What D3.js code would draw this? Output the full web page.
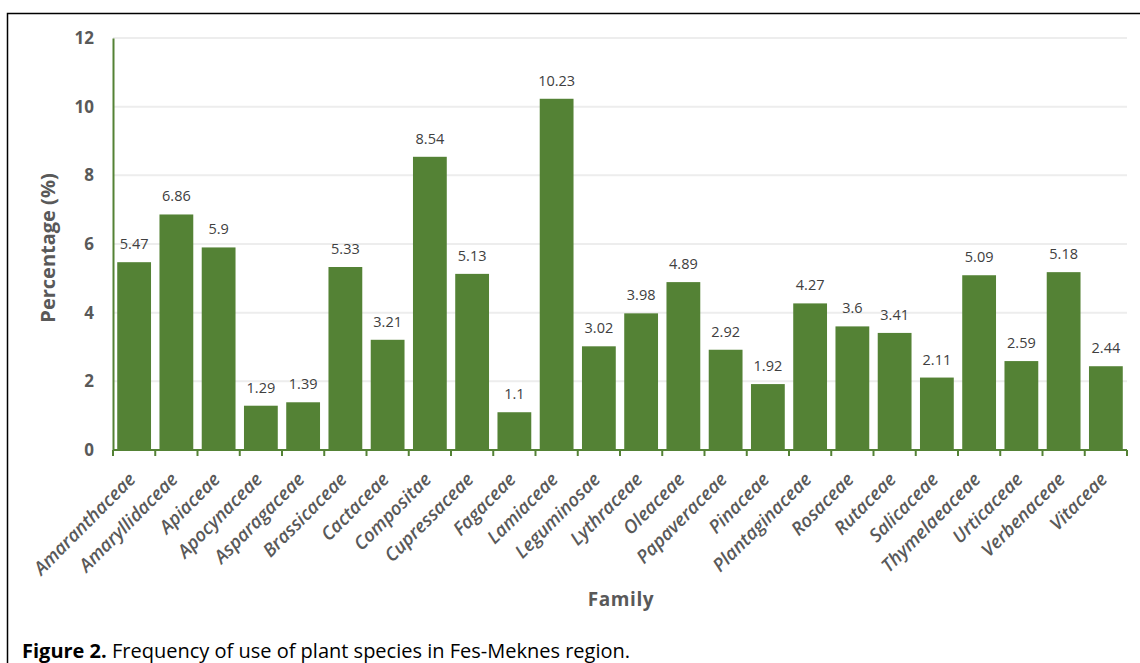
<!DOCTYPE html>
<html>
<head>
    <meta charset="utf-8">
    <style>
        body { margin: 0; background: #fff; }
        svg { display: block; }
    </style>
</head>
<body>
    <svg width="1140" height="663"></svg>
    <script src="https://d3js.org/d3.v7.min.js"></script>
    <script>
        let families = ['Amaranthaceae', 'Amaryllidaceae', 'Apiaceae', 'Apocynaceae', 'Asparagaceae',
            'Brassicaceae', 'Cactaceae', 'Compositae', 'Cupressaceae', 'Fagaceae', 'Lamiaceae',
            'Leguminosae', 'Lythraceae', 'Oleaceae', 'Papaveraceae', 'Pinaceae', 'Plantaginaceae',
            'Rosaceae', 'Rutaceae', 'Salicaceae', 'Thymelaeaceae', 'Urticaceae', 'Verbenaceae', 'Vitaceae'];
        let percentages = [5.47, 6.86, 5.9, 1.29, 1.39, 5.33, 3.21, 8.54, 5.13, 1.1, 10.23,
            3.02, 3.98, 4.89, 2.92, 1.92, 4.27, 3.6, 3.41, 2.11, 5.09, 2.59, 5.18, 2.44];
        let yTicks = [0, 2, 4, 6, 8, 10, 12];

        let data = families.map(function(f, i) {
            return { family: f, value: percentages[i] };
        });

        let svg = d3.select("svg");
        let green = "#548235";
        let grey = "#595959";

        // outer frame (runs off right and bottom edges)
        svg.append("path")
            .attr("d", "M7.5,663 V13.5 H1140")
            .attr("fill", "none")
            .attr("stroke", "#000")
            .attr("stroke-width", 1.5);

        let plotLeft = 113, plotRight = 1127, plotTop = 38, plotBottom = 450;

        let x = d3.scaleBand()
            .domain(families)
            .range([plotLeft, plotRight])
            .paddingInner(0.2)
            .paddingOuter(0.1);

        let y = d3.scaleLinear()
            .domain([0, 12])
            .range([plotBottom, plotTop]);

        // gridlines
        svg.append("g")
            .selectAll("line")
            .data(yTicks.slice(1))
            .enter()
            .append("line")
            .attr("x1", plotLeft)
            .attr("x2", plotRight)
            .attr("y1", function(d) { return y(d); })
            .attr("y2", function(d) { return y(d); })
            .attr("stroke", "#ededed")
            .attr("stroke-width", 2);

        // bars
        svg.append("g")
            .selectAll("rect")
            .data(data)
            .enter()
            .append("rect")
            .attr("x", function(d) { return x(d.family); })
            .attr("width", x.bandwidth())
            .attr("y", function(d) { return y(d.value); })
            .attr("height", function(d) { return y(0) - y(d.value); })
            .attr("fill", green);

        // value labels
        svg.append("g")
            .selectAll("text")
            .data(data)
            .enter()
            .append("text")
            .attr("x", function(d) { return x(d.family) + x.bandwidth() / 2; })
            .attr("y", function(d) { return y(d.value) - 13; })
            .attr("text-anchor", "middle")
            .attr("font-family", "Open Sans")
            .attr("font-size", 14.5)
            .attr("fill", "#404040")
            .text(function(d) { return d.value; });

        // y axis
        let yAxis = svg.append("g")
            .attr("transform", "translate(" + plotLeft + ",0)")
            .call(d3.axisLeft(y).tickValues(yTicks).tickSize(0).tickPadding(19));
        yAxis.select(".domain").attr("stroke", green).attr("stroke-width", 2);
        yAxis.selectAll("text")
            .attr("font-family", "Open Sans")
            .attr("font-weight", "bold")
            .attr("font-size", 17)
            .attr("fill", grey);

        // x axis with ticks on band edges
        let edges = families.map(function(f) { return x(f) - x.step() * x.paddingInner() / 2; });
        edges.push(plotRight);
        let xg = svg.append("g");
        xg.append("line")
            .attr("x1", plotLeft).attr("x2", plotRight)
            .attr("y1", plotBottom).attr("y2", plotBottom)
            .attr("stroke", green).attr("stroke-width", 2);
        xg.selectAll(".tick")
            .data(edges)
            .enter()
            .append("line")
            .attr("x1", function(d) { return d; })
            .attr("x2", function(d) { return d; })
            .attr("y1", plotBottom)
            .attr("y2", plotBottom + 6)
            .attr("stroke", green)
            .attr("stroke-width", 2);

        xg.selectAll("text")
            .data(families)
            .enter()
            .append("text")
            .attr("transform", function(d) {
                return "translate(" + (x(d) + x.bandwidth() / 2 - 2) + "," + (plotBottom + 26) + ") rotate(-45)";
            })
            .attr("text-anchor", "end")
            .attr("dy", "0.35em")
            .attr("font-family", "Open Sans")
            .attr("font-style", "italic")
            .attr("font-weight", 600)
            .attr("font-size", 18.5)
            .attr("fill", grey)
            .text(function(d) { return d; });

        // axis titles
        svg.append("text")
            .attr("transform", "translate(55," + ((plotTop + plotBottom) / 2 + 4) + ") rotate(-90)")
            .attr("text-anchor", "middle")
            .attr("font-family", "Open Sans")
            .attr("font-weight", "bold")
            .attr("font-size", 20)
            .attr("fill", grey)
            .text("Percentage (%)");

        svg.append("text")
            .attr("x", 621)
            .attr("y", 606)
            .attr("text-anchor", "middle")
            .attr("font-family", "Open Sans")
            .attr("font-weight", "bold")
            .attr("font-size", 19)
            .attr("letter-spacing", 0.6)
            .attr("fill", grey)
            .text("Family");

        // caption
        let cap = svg.append("text")
            .attr("x", 22)
            .attr("y", 658)
            .attr("font-family", "Open Sans")
            .attr("font-size", 20)
            .attr("fill", "#000");
        cap.append("tspan").attr("font-weight", "bold").text("Figure 2.");
        cap.append("tspan").text(" Frequency of use of plant species in Fes-Meknes region.");
    </script>
</body>
</html>
